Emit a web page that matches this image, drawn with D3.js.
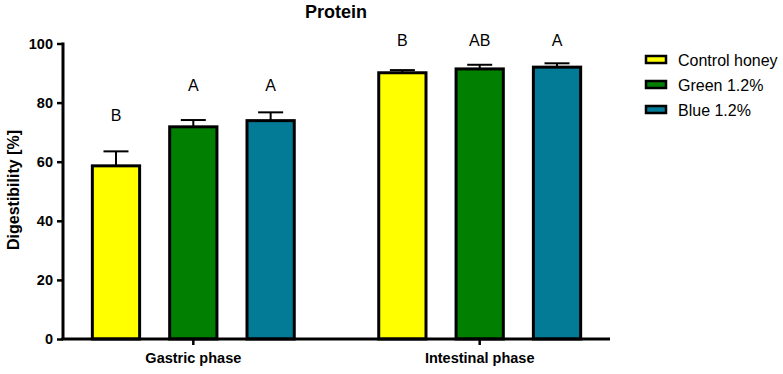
<!DOCTYPE html>
<html lang="en">
<head>
<meta charset="UTF-8">
<title>Protein</title>
<script src="https://d3js.org/d3.v7.min.js"></script>
<style>
    body { margin: 0; background: #fff; }
    text { font-family: Arial, "Liberation Sans", sans-serif; }
</style>
</head>
<body>
<svg width="783" height="374"></svg>
<script>
    // data
    var phases = ["Gastric phase", "Intestinal phase"];
    var series = ["Control honey", "Green 1.2%", "Blue 1.2%"];
    var colors = ["#ffff00", "#007f00", "#037b96"];
    var gastricMean = [58.6, 71.8, 73.9];
    var gastricErr = [4.9, 2.3, 2.8];
    var intestinalMean = [90.1, 91.4, 92.0];
    var intestinalErr = [0.9, 1.4, 1.3];
    var gastricLetters = ["B", "A", "A"];
    var intestinalLetters = ["B", "AB", "A"];
    var gastricLetterAt = [73.8, 83.9, 83.9];
    var intestinalLetterAt = [99.2, 99.2, 99.2];
    var yTicks = [0, 20, 40, 60, 80, 100];

    var rows = [];
    phases.forEach(function(p, i) {
        series.forEach(function(s, j) {
            rows.push({
                phase: p, series: s, color: colors[j],
                mean: i == 0 ? gastricMean[j] : intestinalMean[j],
                err: i == 0 ? gastricErr[j] : intestinalErr[j],
                letter: i == 0 ? gastricLetters[j] : intestinalLetters[j],
                letterAt: i == 0 ? gastricLetterAt[j] : intestinalLetterAt[j]
            });
        });
    });

    var svg = d3.select("svg");
    var plotLeft = 63, plotRight = 610, plotTop = 43.5, plotBottom = 339;

    var y = d3.scaleLinear().domain([0, 100]).range([plotBottom, plotTop]);
    var x0 = d3.scaleBand().domain(phases).range([plotLeft, plotRight])
        .paddingInner(0.19).paddingOuter(0.05);
    var x1 = d3.scaleBand().domain(series).range([0, x0.bandwidth()])
        .paddingInner(0.35).paddingOuter(0.175);

    // title
    svg.append("text")
        .attr("x", 336).attr("y", 18)
        .attr("text-anchor", "middle")
        .style("font-size", "18px").style("font-weight", "bold")
        .text("Protein");

    // bars
    var g = svg.append("g");
    g.selectAll("rect.bar")
        .data(rows)
        .enter().append("rect")
        .attr("class", "bar")
        .attr("x", function(d) { return x0(d.phase) + x1(d.series) + 1.5; })
        .attr("width", x1.bandwidth() - 3)
        .attr("y", function(d) { return y(d.mean); })
        .attr("height", function(d) { return y(0) - y(d.mean); })
        .attr("fill", function(d) { return d.color; })
        .attr("stroke", "#000")
        .attr("stroke-width", 3);

    // error bars (upper only)
    var cx = function(d) { return x0(d.phase) + x1(d.series) + x1.bandwidth() / 2; };
    g.selectAll("line.err")
        .data(rows)
        .enter().append("line")
        .attr("class", "err")
        .attr("x1", cx).attr("x2", cx)
        .attr("y1", function(d) { return y(d.mean); })
        .attr("y2", function(d) { return y(d.mean + d.err); })
        .attr("stroke", "#000").attr("stroke-width", 2);
    g.selectAll("line.cap")
        .data(rows)
        .enter().append("line")
        .attr("class", "cap")
        .attr("x1", function(d) { return cx(d) - 12.5; })
        .attr("x2", function(d) { return cx(d) + 12.5; })
        .attr("y1", function(d) { return y(d.mean + d.err); })
        .attr("y2", function(d) { return y(d.mean + d.err); })
        .attr("stroke", "#000").attr("stroke-width", 2);

    // significance letters
    g.selectAll("text.letter")
        .data(rows)
        .enter().append("text")
        .attr("class", "letter")
        .attr("x", cx)
        .attr("y", function(d) { return y(d.letterAt); })
        .attr("text-anchor", "middle")
        .style("font-size", "16px")
        .text(function(d) { return d.letter; });

    // y axis
    var yAxis = svg.append("g")
        .attr("transform", "translate(" + plotLeft + ",0)")
        .call(d3.axisLeft(y).tickValues(yTicks).tickSize(6).tickPadding(4));
    yAxis.select(".domain").attr("d", "M0," + (plotTop - 1) + "V" + plotBottom)
        .attr("stroke-width", 3);
    yAxis.selectAll(".tick line").attr("stroke-width", 2.5);
    yAxis.selectAll(".tick text")
        .style("font-size", "14.5px").style("font-weight", "bold")
        .style("font-family", "Arial, 'Liberation Sans', sans-serif")
        .attr("fill", "#000");

    // x axis
    var xAxis = svg.append("g")
        .attr("transform", "translate(0," + plotBottom + ")")
        .call(d3.axisBottom(x0).tickSize(6).tickPadding(8));
    xAxis.select(".domain").attr("d", "M" + (plotLeft - 1.5) + ",0H" + plotRight)
        .attr("stroke-width", 3);
    xAxis.selectAll(".tick line").attr("stroke-width", 2.5);
    xAxis.selectAll(".tick text")
        .style("font-size", "14.5px").style("font-weight", "bold")
        .style("font-family", "Arial, 'Liberation Sans', sans-serif")
        .attr("fill", "#000");

    // y label
    svg.append("text")
        .attr("transform", "translate(19,190) rotate(-90)")
        .attr("text-anchor", "middle")
        .style("font-size", "16px").style("font-weight", "bold")
        .text("Digestibility [%]");

    // legend
    var legend = svg.append("g").attr("transform", "translate(646,56)");
    var item = legend.selectAll("g")
        .data(series)
        .enter().append("g")
        .attr("transform", function(d, i) { return "translate(0," + (i * 25) + ")"; });
    item.append("rect")
        .attr("width", 20).attr("height", 7)
        .attr("fill", function(d, i) { return colors[i]; })
        .attr("stroke", "#000").attr("stroke-width", 2.5);
    item.append("text")
        .attr("x", 32).attr("y", 9.5)
        .style("font-size", "16px")
        .text(function(d) { return d; });
</script>
</body>
</html>
